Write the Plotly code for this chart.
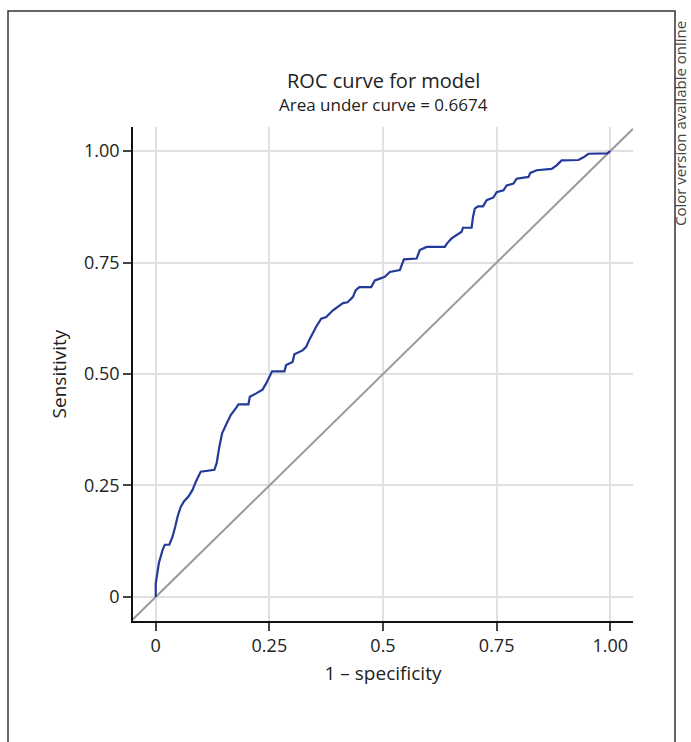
import plotly.graph_objects as go

# ROC curve data (1 - specificity, sensitivity)
fpr = [0.0, 0.0, 0.003, 0.007, 0.015, 0.02, 0.03, 0.037, 0.043, 0.048, 0.055, 0.062,
       0.072, 0.081, 0.088, 0.099, 0.129, 0.134, 0.14, 0.146, 0.156, 0.165, 0.176,
       0.182, 0.204, 0.207, 0.22, 0.235, 0.243, 0.25, 0.256, 0.283, 0.287, 0.301,
       0.305, 0.323, 0.331, 0.338, 0.345, 0.353, 0.364, 0.375, 0.39, 0.404, 0.412,
       0.422, 0.434, 0.44, 0.448, 0.474, 0.482, 0.493, 0.504, 0.515, 0.537, 0.546,
       0.574, 0.581, 0.596, 0.636, 0.641, 0.651, 0.662, 0.673, 0.676, 0.695, 0.698,
       0.702, 0.709, 0.72, 0.728, 0.743, 0.75, 0.765, 0.772, 0.787, 0.794, 0.82,
       0.824, 0.838, 0.871, 0.882, 0.893, 0.93, 0.941, 0.952, 0.993, 1.0]
tpr = [0.0, 0.03, 0.05, 0.076, 0.105, 0.117, 0.117, 0.135, 0.158, 0.18, 0.202, 0.214,
       0.225, 0.24, 0.258, 0.281, 0.285, 0.30, 0.337, 0.367, 0.389, 0.408, 0.423,
       0.432, 0.432, 0.449, 0.456, 0.465, 0.479, 0.494, 0.506, 0.506, 0.52, 0.527,
       0.544, 0.553, 0.561, 0.577, 0.591, 0.606, 0.624, 0.628, 0.643, 0.654, 0.659,
       0.661, 0.673, 0.688, 0.695, 0.695, 0.71, 0.714, 0.718, 0.729, 0.733, 0.757,
       0.759, 0.778, 0.785, 0.785, 0.793, 0.804, 0.811, 0.819, 0.828, 0.828, 0.852,
       0.871, 0.876, 0.876, 0.89, 0.896, 0.908, 0.912, 0.923, 0.927, 0.938, 0.942,
       0.951, 0.957, 0.96, 0.968, 0.979, 0.98, 0.986, 0.994, 0.995, 1.0]

diag_x = [-0.05, 1.05]
diag_y = [-0.05, 1.05]

tick_vals = [0, 0.25, 0.5, 0.75, 1.0]
x_tick_text = ["0", "0.25", "0.5", "0.75", "1.00"]
y_tick_text = ["0", "0.25", "0.50", "0.75", "1.00"]

title_text = "ROC curve for model"
subtitle_text = "Area under curve = 0.6674"
x_title = "1 – specificity"
y_title = "Sensitivity"
side_note = "Color version available online"

FONT = "Open Sans, Noto Sans, sans-serif"

fig = go.Figure()
fig.add_trace(go.Scatter(x=diag_x, y=diag_y, mode="lines",
                         line=dict(color="#9a9a9a", width=2), hoverinfo="skip",
                         showlegend=False))
fig.add_trace(go.Scatter(x=fpr, y=tpr, mode="lines",
                         line=dict(color="#233a98", width=2.2), showlegend=False))

W, H = 691, 742
ml, mr, mt, mb = 133, 58, 127, 121
pw, ph = W - ml - mr, H - mt - mb


def px_x(page_x):
    return (page_x - ml) / pw


def px_y(page_y):
    return (H - mb - page_y) / ph


axis_common = dict(
    tickvals=tick_vals, showgrid=True, gridcolor="#e0e0e0", gridwidth=2,
    zeroline=False, showline=True, linecolor="#111", linewidth=1.5,
    ticks="outside", ticklen=8, tickcolor="#444", tickwidth=1.5,
    tickfont=dict(family=FONT, size=18, color="#222"),
)

fig.update_layout(
    width=W, height=H,
    margin=dict(l=ml, r=mr, t=mt, b=mb, pad=0),
    paper_bgcolor="white", plot_bgcolor="white",
    font=dict(family=FONT, color="#222"),
    xaxis=dict(range=[-0.05, 1.05], ticktext=x_tick_text,
               title=dict(text=x_title, font=dict(family=FONT, size=19), standoff=10),
               **axis_common),
    yaxis=dict(range=[-0.054, 1.054], ticktext=y_tick_text,
               title=dict(text=y_title, font=dict(family=FONT, size=19), standoff=12),
               **axis_common),
    shapes=[dict(type="rect", xref="paper", yref="paper",
                 x0=px_x(8), x1=px_x(675), y0=px_y(780), y1=px_y(11),
                 line=dict(color="#333", width=1.5), layer="below")],
    annotations=[
        dict(text=title_text, xref="paper", yref="paper", x=0.5, y=px_y(80),
             xanchor="center", yanchor="middle", showarrow=False,
             font=dict(family=FONT, size=20, color="#222")),
        dict(text=subtitle_text, xref="paper", yref="paper", x=0.5, y=px_y(104),
             xanchor="center", yanchor="middle", showarrow=False,
             font=dict(family=FONT, size=17, color="#222")),
        dict(text=side_note, xref="paper", yref="paper", x=px_x(680), y=px_y(124),
             xanchor="center", yanchor="middle", showarrow=False, textangle=-90,
             font=dict(family=FONT, size=15, color="#444")),
    ],
)

fig.write_html(
    "out.html",
    config={"displayModeBar": False},
    post_script="document.body.style.margin='0';document.body.style.overflow='hidden';",
)
